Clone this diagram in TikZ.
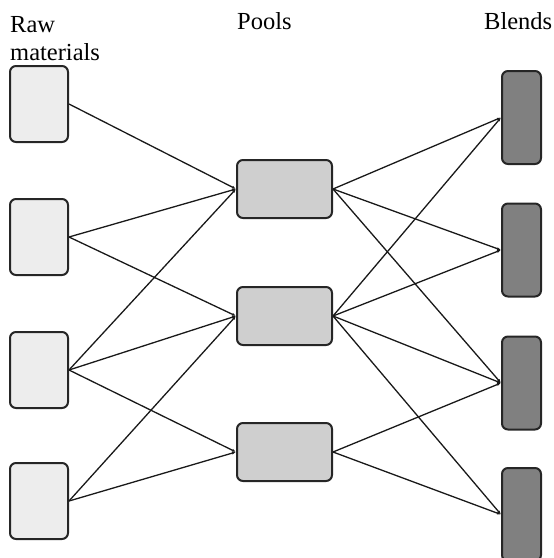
\documentclass[tikz,border=0pt]{standalone}
\usepackage{fontspec}
\setmainfont{Liberation Serif}
\usetikzlibrary{math, calc, arrows.meta}

\tikzset{
    box/.style={draw=black!85, line width=2pt, rounded corners=6pt, inner sep=0pt},
    rawbox/.style={box, fill=black!7, minimum width=58pt, minimum height=76pt},
    poolbox/.style={box, fill=black!19, minimum width=95pt, minimum height=58pt},
    blendbox/.style={box, fill=black!50, minimum width=39pt, minimum height=93pt},
    flow/.style={line width=1.3pt, black!90, -{Latex[length=4pt, width=3pt]}},
    title/.style={font=\fontsize{24.5}{28}\selectfont, inner sep=0pt, anchor=base west}
}

\begin{document}
\begin{tikzpicture}[x=1pt, y=-1pt]
    \tikzmath{
        \rawx=39;
        \poolx=284.5;
        \blendx=521.5;
    }

    \useasboundingbox (0, 0) rectangle (554, 558);

    % titles
    \node [title, align=left] (rawtitle) at (10, 60) {Raw\\materials};
    \node [title] (pooltitle) at (237, 29) {Pools};
    \node [title] (blendtitle) at (484, 29) {Blends};

    % raw materials
    \node [rawbox] (raw1) at (\rawx, 104) {};
    \node [rawbox] (raw2) at (\rawx, 237) {};
    \node [rawbox] (raw3) at (\rawx, 370) {};
    \node [rawbox] (raw4) at (\rawx, 501) {};

    % pools
    \node [poolbox] (pool1) at (\poolx, 189) {};
    \node [poolbox] (pool2) at (\poolx, 316) {};
    \node [poolbox] (pool3) at (\poolx, 452) {};

    % blends
    \node [blendbox] (blend1) at (\blendx, 117.5) {};
    \node [blendbox] (blend2) at (\blendx, 250) {};
    \node [blendbox] (blend3) at (\blendx, 383) {};
    \node [blendbox] (blend4) at (\blendx, 514.5) {};

    % raw materials to pools
    \draw [flow] (raw1.east) -- (pool1.west);
    \draw [flow] (raw2.east) -- (pool1.west);
    \draw [flow] (raw2.east) -- (pool2.west);
    \draw [flow] (raw3.east) -- (pool1.west);
    \draw [flow] (raw3.east) -- (pool2.west);
    \draw [flow] (raw3.east) -- (pool3.west);
    \draw [flow] (raw4.east) -- (pool2.west);
    \draw [flow] (raw4.east) -- (pool3.west);

    % pools to blends
    \draw [flow] (pool1.east) -- (blend1.west);
    \draw [flow] (pool1.east) -- (blend2.west);
    \draw [flow] (pool1.east) -- (blend3.west);
    \draw [flow] (pool2.east) -- (blend1.west);
    \draw [flow] (pool2.east) -- (blend2.west);
    \draw [flow] (pool2.east) -- (blend3.west);
    \draw [flow] (pool2.east) -- (blend4.west);
    \draw [flow] (pool3.east) -- (blend3.west);
    \draw [flow] (pool3.east) -- (blend4.west);
\end{tikzpicture}
\end{document}
